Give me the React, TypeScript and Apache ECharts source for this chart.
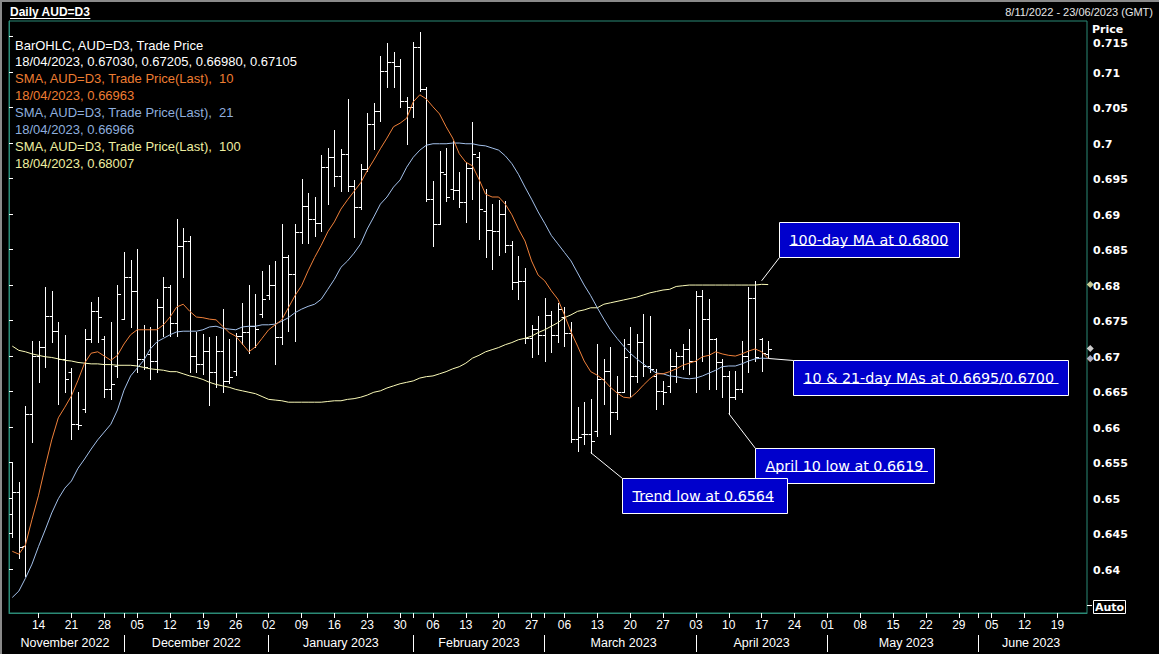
import React, { useEffect, useRef } from 'react';
import * as echarts from 'echarts';

// ---------- data ----------
const FIRST_DAY = '2022-11-08';
const LAST_DAY = '2023-06-23';
const INSTRUMENT = 'AUD=D3';
const MONTH_NAMES = ['January', 'February', 'March', 'April', 'May', 'June', 'July', 'August', 'September', 'October', 'November', 'December'];

const OPEN = [
  0.6478, 0.6509, 0.6432, 0.6618, 0.6700, 0.6713, 0.6756, 0.6735, 0.6696, 0.6678,
  0.6604, 0.6625, 0.6724, 0.6763, 0.6724, 0.6654, 0.6686, 0.6752, 0.6811, 0.6792,
  0.6696, 0.6703, 0.6693, 0.6769, 0.6797, 0.6746, 0.6855, 0.6862, 0.6700, 0.6689,
  0.6707, 0.6678, 0.6707, 0.6665, 0.6679, 0.6728, 0.6734, 0.6742, 0.6759, 0.6786,
  0.6800, 0.6727, 0.6839, 0.6816, 0.6875, 0.6911, 0.6893, 0.6887, 0.6966, 0.6980,
  0.6954, 0.6985, 0.6939, 0.6910, 0.6963, 0.7027, 0.7045, 0.7101, 0.7114, 0.7108,
  0.7059, 0.7051, 0.7135, 0.7076, 0.6921, 0.6886, 0.6956, 0.6935, 0.6934, 0.6917,
  0.6965, 0.6980, 0.6904, 0.6878, 0.6876, 0.6900, 0.6856, 0.6804, 0.6806, 0.6725,
  0.6738, 0.6730, 0.6758, 0.6730, 0.6755, 0.6732, 0.6583, 0.6590, 0.6590, 0.6594,
  0.6668, 0.6679, 0.6621, 0.6649, 0.6717, 0.6672, 0.6720, 0.6686, 0.6672, 0.6651,
  0.6658, 0.6686, 0.6700, 0.6710, 0.6693, 0.6785, 0.6752, 0.6724, 0.6692, 0.6672,
  0.6642, 0.6654, 0.6700, 0.6782, 0.6724, 0.67030,
];
const HIGH = [
  0.6551, 0.6523, 0.6630, 0.6721, 0.6721, 0.6797, 0.6792, 0.6748, 0.6730, 0.6683,
  0.6649, 0.6738, 0.6776, 0.6783, 0.6728, 0.6748, 0.6800, 0.6847, 0.6835, 0.6851,
  0.6744, 0.6741, 0.6780, 0.6811, 0.6800, 0.6893, 0.6880, 0.6869, 0.6734, 0.6731,
  0.6727, 0.6728, 0.6766, 0.6724, 0.6732, 0.6775, 0.6800, 0.6787, 0.6820, 0.6828,
  0.6834, 0.6886, 0.6843, 0.6886, 0.6949, 0.6930, 0.6924, 0.6983, 0.6993, 0.7018,
  0.6992, 0.7062, 0.6948, 0.6970, 0.7042, 0.7056, 0.7123, 0.7141, 0.7128, 0.7119,
  0.7065, 0.7142, 0.7156, 0.7079, 0.6946, 0.6989, 0.6993, 0.7003, 0.6959, 0.6973,
  0.7030, 0.6987, 0.6935, 0.6914, 0.6920, 0.6918, 0.6862, 0.6841, 0.6824, 0.6744,
  0.6756, 0.6782, 0.6763, 0.6775, 0.6769, 0.6748, 0.6628, 0.6635, 0.6639, 0.6717,
  0.6696, 0.6713, 0.6672, 0.6724, 0.6741, 0.6731, 0.6759, 0.6756, 0.6682, 0.6665,
  0.6710, 0.6706, 0.6717, 0.6738, 0.6792, 0.6793, 0.6780, 0.6725, 0.6696, 0.6679,
  0.6679, 0.6721, 0.6797, 0.6806, 0.6725, 0.67205,
];
const LOW = [
  0.6445, 0.6416, 0.6390, 0.6579, 0.6663, 0.6685, 0.6720, 0.6632, 0.6649, 0.6583,
  0.6597, 0.6621, 0.6720, 0.6720, 0.6642, 0.6639, 0.6670, 0.6752, 0.6741, 0.6678,
  0.6682, 0.6668, 0.6678, 0.6728, 0.6728, 0.6728, 0.6811, 0.6678, 0.6678, 0.6675,
  0.6631, 0.6656, 0.6649, 0.6662, 0.6673, 0.6717, 0.6704, 0.6713, 0.6755, 0.6780,
  0.6689, 0.6717, 0.6735, 0.6721, 0.6859, 0.6859, 0.6869, 0.6876, 0.6914, 0.6939,
  0.6932, 0.6932, 0.6868, 0.6907, 0.6961, 0.6992, 0.7031, 0.7079, 0.7079, 0.7051,
  0.6999, 0.7036, 0.7073, 0.6918, 0.6855, 0.6886, 0.6918, 0.6921, 0.6910, 0.6889,
  0.6921, 0.6865, 0.6839, 0.6823, 0.6843, 0.6847, 0.6794, 0.6780, 0.6718, 0.6699,
  0.6703, 0.6693, 0.6706, 0.6720, 0.6714, 0.6579, 0.6566, 0.6576, 0.6564, 0.6587,
  0.6632, 0.6590, 0.6611, 0.6649, 0.6644, 0.6663, 0.6672, 0.6678, 0.6625, 0.6632,
  0.6649, 0.6663, 0.6682, 0.6675, 0.6649, 0.6693, 0.6654, 0.6654, 0.6642, 0.6619,
  0.6639, 0.6649, 0.6678, 0.6693, 0.6679, 0.66980,
];
const CLOSE = [
  0.6509, 0.6431, 0.6618, 0.6700, 0.6713, 0.6756, 0.6735, 0.6696, 0.6668, 0.6604,
  0.6603, 0.6724, 0.6763, 0.6755, 0.6654, 0.6661, 0.6787, 0.6811, 0.6792, 0.6696,
  0.6685, 0.6693, 0.6769, 0.6797, 0.6746, 0.6855, 0.6862, 0.6700, 0.6689, 0.6707,
  0.6678, 0.6707, 0.6665, 0.6671, 0.6728, 0.6734, 0.6742, 0.6738, 0.6780, 0.6800,
  0.6727, 0.6839, 0.6816, 0.6875, 0.6911, 0.6893, 0.6887, 0.6966, 0.6980, 0.6954,
  0.6985, 0.6939, 0.6910, 0.6963, 0.7027, 0.7045, 0.7101, 0.7114, 0.7108, 0.7059,
  0.7051, 0.7135, 0.7076, 0.6921, 0.6886, 0.6959, 0.6924, 0.6934, 0.6917, 0.6965,
  0.6985, 0.6907, 0.6878, 0.6876, 0.6900, 0.6856, 0.6804, 0.6806, 0.6725, 0.6738,
  0.6730, 0.6758, 0.6730, 0.6766, 0.6732, 0.6583, 0.6586, 0.6590, 0.6580, 0.6668,
  0.6679, 0.6621, 0.6649, 0.6698, 0.6672, 0.6720, 0.6686, 0.6682, 0.6651, 0.6649,
  0.6686, 0.6700, 0.6710, 0.6693, 0.6785, 0.6752, 0.6724, 0.6692, 0.6672, 0.6642,
  0.6654, 0.6700, 0.6782, 0.6699, 0.6704, 0.67105,
];
const SMA10 = [
  0.6425, 0.6421, 0.6434, 0.6470, 0.6504, 0.6544, 0.6582, 0.6613, 0.6628, 0.6644,
  0.6666, 0.6690, 0.6704, 0.6706, 0.6700, 0.6694, 0.6701, 0.6717, 0.6730, 0.6737,
  0.6737, 0.6737, 0.6737, 0.6744, 0.6755, 0.6769, 0.6773, 0.6763, 0.6755, 0.6754,
  0.6752, 0.6751, 0.6742, 0.6733, 0.6728, 0.6717, 0.6706, 0.6713, 0.6725, 0.6737,
  0.6744, 0.6751, 0.6768, 0.6785, 0.6799, 0.6820, 0.6839, 0.6856, 0.6875, 0.6889,
  0.6907, 0.6920, 0.6932, 0.6944, 0.6961, 0.6976, 0.6992, 0.7007, 0.7023, 0.7028,
  0.7035, 0.7058, 0.7068, 0.7062, 0.7051, 0.7041, 0.7023, 0.7007, 0.6985, 0.6973,
  0.6968, 0.6949, 0.6928, 0.6924, 0.6924, 0.6914, 0.6899, 0.6879, 0.6862, 0.6834,
  0.6814, 0.6806, 0.6792, 0.6780, 0.6758, 0.6734, 0.6714, 0.6693, 0.6678, 0.6673,
  0.6666, 0.6656, 0.6648, 0.6642, 0.6641, 0.6649, 0.6659, 0.6668, 0.6675, 0.6675,
  0.6678, 0.6682, 0.6687, 0.6690, 0.6693, 0.6699, 0.6701, 0.6706, 0.6703, 0.6701,
  0.6700, 0.6703, 0.6707, 0.6710, 0.6706, 0.66963,
];
const SMA21 = [
  0.6360, 0.6369, 0.6387, 0.6407, 0.6432, 0.6455, 0.6479, 0.6499, 0.6514, 0.6524,
  0.6542, 0.6555, 0.6569, 0.6582, 0.6593, 0.6604, 0.6624, 0.6652, 0.6672, 0.6683,
  0.6694, 0.6710, 0.6720, 0.6725, 0.6730, 0.6734, 0.6735, 0.6735, 0.6735, 0.6737,
  0.6741, 0.6742, 0.6739, 0.6738, 0.6737, 0.6741, 0.6742, 0.6742, 0.6744, 0.6744,
  0.6745, 0.6749, 0.6754, 0.6761, 0.6766, 0.6770, 0.6773, 0.6780, 0.6794, 0.6808,
  0.6825, 0.6834, 0.6845, 0.6858, 0.6879, 0.6896, 0.6914, 0.6924, 0.6938, 0.6948,
  0.6966, 0.6980, 0.6990, 0.6997, 0.6999, 0.6999, 0.6999, 0.7000, 0.7000, 0.6999,
  0.6999, 0.6997, 0.6996, 0.6993, 0.6990, 0.6982, 0.6971, 0.6956, 0.6938, 0.6921,
  0.6903, 0.6887, 0.6870, 0.6858, 0.6846, 0.6834, 0.6817, 0.6800, 0.6785, 0.6768,
  0.6752, 0.6737, 0.6725, 0.6714, 0.6704, 0.6696, 0.6689, 0.6682, 0.6676, 0.6675,
  0.6672, 0.6671, 0.6669, 0.6668, 0.6669, 0.6672, 0.6676, 0.6680, 0.6685, 0.6686,
  0.6686, 0.6689, 0.6693, 0.6696, 0.6697, 0.66966,
];
const SMA100 = [
  0.6714, 0.6708, 0.6706, 0.6703, 0.6701, 0.6699, 0.6698, 0.6696, 0.6694, 0.6693,
  0.6691, 0.6690, 0.6689, 0.6689, 0.6688, 0.6688, 0.6687, 0.6687, 0.6687, 0.6686,
  0.6684, 0.6682, 0.6681, 0.6680, 0.6678, 0.6678, 0.6675, 0.6672, 0.6670, 0.6667,
  0.6663, 0.6660, 0.6658, 0.6656, 0.6653, 0.6651, 0.6649, 0.6647, 0.6643, 0.6639,
  0.6638, 0.6637, 0.6635, 0.6635, 0.6635, 0.6635, 0.6635, 0.6635, 0.6636, 0.6637,
  0.6637, 0.6639, 0.6640, 0.6642, 0.6645, 0.6649, 0.6651, 0.6655, 0.6658, 0.6661,
  0.6663, 0.6665, 0.6669, 0.6671, 0.6672, 0.6675, 0.6678, 0.6682, 0.6685, 0.6690,
  0.6697, 0.6701, 0.6706, 0.6709, 0.6712, 0.6716, 0.6719, 0.6723, 0.6725, 0.6728,
  0.6733, 0.6737, 0.6742, 0.6747, 0.6754, 0.6758, 0.6763, 0.6765, 0.6768, 0.6768,
  0.6773, 0.6775, 0.6777, 0.6779, 0.6781, 0.6783, 0.6786, 0.6789, 0.6791, 0.6793,
  0.6794, 0.6798, 0.6799, 0.6800, 0.6800, 0.6800, 0.6800, 0.6800, 0.6800, 0.6800,
  0.6800, 0.6800, 0.6800, 0.6800, 0.6801, 0.68007,
];

const Y_TICKS = [0.64, 0.645, 0.65, 0.655, 0.66, 0.665, 0.67, 0.675, 0.68, 0.685, 0.69, 0.695, 0.7, 0.705, 0.71, 0.715];
const Y_MIN = 0.63381;
const Y_MAX = 0.71719;

const ANNOTATIONS = [
  { text: '100-day MA at 0.6800', at: 114, value: 0.6806, box: { x: 779, y: 222, w: 180, h: 35 }, join: 'bottom' },
  { text: '10 & 21-day MAs at 0.6695/0.6700 ', at: 115, value: 0.66966, box: { x: 793, y: 360, w: 275, h: 35 }, join: 'top' },
  { text: 'April 10 low at 0.6619 ', at: 109, value: 0.6619, box: { x: 755, y: 448, w: 179, h: 35 }, join: 'top' },
  { text: 'Trend low at 0.6564', at: 88, value: 0.6564, box: { x: 622, y: 478, w: 165, h: 35 }, join: 'top' },
];

// ---------- styles ----------
const TEAL = '#2b8a76';
const WHITE = '#ffffff';
const ORANGE = '#f0803a';
const ORANGE_TXT = '#ee7d32';
const BLUE = '#a3c0ea';
const BLUE_TXT = '#8eaede';
const YELLOW = '#fbfbb8';
const YELLOW_TXT = '#eeeea0';
const BOX_BLUE = '#0000cc';
const SANS = '"Liberation Sans", Arial, sans-serif';
const VERD = '"DejaVu Sans", Verdana, sans-serif';
const ANN_FONT = '14.3px ' + VERD;

// ---------- helpers ----------
function buildWeekdays(first: string, last: string): string[] {
  const out: string[] = [];
  const d = new Date(first + 'T00:00:00Z');
  const e = new Date(last + 'T00:00:00Z');
  while (d.getTime() <= e.getTime()) {
    const wd = d.getUTCDay();
    if (wd !== 0 && wd !== 6) out.push(d.toISOString().slice(0, 10));
    d.setUTCDate(d.getUTCDate() + 1);
  }
  return out;
}
const DATES = buildWeekdays(FIRST_DAY, LAST_DAY);
const isMonday = (i: number) => new Date(DATES[i] + 'T00:00:00Z').getUTCDay() === 1;
const isMonthStart = (i: number) => i > 0 && DATES[i].slice(5, 7) !== DATES[i - 1].slice(5, 7);

const MONTH_LABEL_AT = new Map<number, string>();
(() => {
  const starts: number[] = [];
  DATES.forEach((_, i) => { if (isMonthStart(i)) starts.push(i); });
  const bounds = [-0.5, ...starts, DATES.length - 0.5];
  for (let k = 0; k < bounds.length - 1; k++) {
    const mid = Math.round((bounds[k] + bounds[k + 1]) / 2);
    const d = DATES[Math.max(0, Math.ceil(bounds[k]))];
    MONTH_LABEL_AT.set(mid, MONTH_NAMES[+d.slice(5, 7) - 1] + ' ' + d.slice(0, 4));
  }
})();

const dmy = (iso: string) => `${iso.slice(8, 10)}/${iso.slice(5, 7)}/${iso.slice(0, 4)}`;
const dmyShort = (iso: string) => `${+iso.slice(8, 10)}/${iso.slice(5, 7)}/${iso.slice(0, 4)}`;

function measure(text: string, font: string): number {
  const ctx = document.createElement('canvas').getContext('2d');
  if (!ctx) return text.length * 8;
  ctx.font = font;
  return ctx.measureText(text).width;
}

function buildOption() {
  const n = CLOSE.length - 1;
  const lastDate = dmy(DATES[n]);
  const ohlc = OPEN.map((o, i) => [i, o, HIGH[i], LOW[i], CLOSE[i]]);
  const legend: [string, string][] = [
    [`BarOHLC, ${INSTRUMENT}, Trade Price`, WHITE],
    [`${lastDate}, ${OPEN[n].toFixed(5)}, ${HIGH[n].toFixed(5)}, ${LOW[n].toFixed(5)}, ${CLOSE[n].toFixed(5)}`, WHITE],
    [`SMA, ${INSTRUMENT}, Trade Price(Last),  10`, ORANGE_TXT],
    [`${lastDate}, ${SMA10[n].toFixed(5)}`, ORANGE_TXT],
    [`SMA, ${INSTRUMENT}, Trade Price(Last),  21`, BLUE_TXT],
    [`${lastDate}, ${SMA21[n].toFixed(5)}`, BLUE_TXT],
    [`SMA, ${INSTRUMENT}, Trade Price(Last),  100`, YELLOW_TXT],
    [`${lastDate}, ${SMA100[n].toFixed(5)}`, YELLOW_TXT],
  ];
  const topTick = Y_TICKS[Y_TICKS.length - 1];

  return {
    animation: false,
    backgroundColor: '#000000',
    textStyle: { fontFamily: SANS },
    grid: { left: 9, right: 72, top: 21, bottom: 41, show: true, borderColor: TEAL, borderWidth: 1, backgroundColor: 'transparent' },
    xAxis: [
      {
        type: 'category', data: DATES, boundaryGap: true,
        axisLine: { show: true, lineStyle: { color: TEAL, width: 1 } },
        axisTick: { show: true, alignWithLabel: true, length: 5, interval: (i: number) => isMonday(i) || isMonthStart(i), lineStyle: { color: WHITE } },
        axisLabel: { show: true, interval: (i: number) => isMonday(i), formatter: (v: string) => v.slice(8, 10), color: WHITE, fontSize: 12, fontFamily: SANS, margin: 6 },
        splitLine: { show: false },
      },
      {
        type: 'category', data: DATES, boundaryGap: true, position: 'bottom', offset: 22,
        axisLine: { show: false },
        axisTick: { show: true, alignWithLabel: true, length: 17, interval: (i: number) => isMonthStart(i), lineStyle: { color: WHITE } },
        axisLabel: { show: true, interval: (i: number) => MONTH_LABEL_AT.has(i), formatter: (_v: string, i: number) => MONTH_LABEL_AT.get(i) || '', color: WHITE, fontSize: 12.5, fontFamily: SANS, margin: 1 },
        splitLine: { show: false },
      },
      { type: 'value', min: 0, max: 1, show: false, position: 'top' },
    ],
    yAxis: [
      {
        type: 'value', position: 'right', min: Y_MIN, max: Y_MAX,
        axisLine: { show: true, lineStyle: { color: TEAL } },
        axisTick: { show: true, length: 4, customValues: Y_TICKS, lineStyle: { color: WHITE } },
        axisLabel: {
          show: true, customValues: Y_TICKS,
          formatter: (v: number) => {
            const s = String(Number(v.toFixed(3)));
            return Math.abs(v - topTick) < 1e-9 ? `{t|${s}}` : `{n|${s}}`;
          },
          rich: {
            n: { color: WHITE, fontWeight: 'bold', fontSize: 11, fontFamily: VERD, padding: [2, 0, 0, 0] },
            t: { color: WHITE, fontWeight: 'bold', fontSize: 11, fontFamily: VERD, padding: [14, 0, 0, 0] },
          },
          color: WHITE, fontWeight: 'bold', fontSize: 11, fontFamily: VERD, margin: 6,
        },
        splitLine: { show: false },
      },
    ],
    series: [
      {
        type: 'custom', name: 'BarOHLC', xAxisIndex: 0, yAxisIndex: 0,
        data: ohlc, encode: { x: 0, y: [1, 2, 3, 4] },
        renderItem: (_p: any, api: any) => {
          const idx = api.value(0);
          const pO = api.coord([idx, api.value(1)]);
          const pH = api.coord([idx, api.value(2)]);
          const pL = api.coord([idx, api.value(3)]);
          const pC = api.coord([idx, api.value(4)]);
          const x = Math.round(pO[0]) + 0.5;
          const yo = Math.round(pO[1]) + 0.5;
          const yc = Math.round(pC[1]) + 0.5;
          const st = { stroke: WHITE, lineWidth: 1 };
          return {
            type: 'group',
            children: [
              { type: 'line', shape: { x1: x, y1: Math.round(pH[1]), x2: x, y2: Math.round(pL[1]) + 1 }, style: st },
              { type: 'line', shape: { x1: x - 3, y1: yo, x2: x, y2: yo }, style: st },
              { type: 'line', shape: { x1: x, y1: yc, x2: x + 3.5, y2: yc }, style: st },
            ],
          };
        },
        z: 2,
      },
      { type: 'line', name: 'SMA100', data: SMA100, xAxisIndex: 0, yAxisIndex: 0, symbol: 'none', showSymbol: false, lineStyle: { color: YELLOW, width: 1 }, z: 3 },
      { type: 'line', name: 'SMA21', data: SMA21, xAxisIndex: 0, yAxisIndex: 0, symbol: 'none', showSymbol: false, lineStyle: { color: BLUE, width: 1 }, z: 4 },
      { type: 'line', name: 'SMA10', data: SMA10, xAxisIndex: 0, yAxisIndex: 0, symbol: 'none', showSymbol: false, lineStyle: { color: ORANGE, width: 1 }, z: 5 },
      {
        type: 'scatter', name: 'last', xAxisIndex: 2, yAxisIndex: 0, clip: false, symbol: 'diamond', symbolSize: [7, 7], z: 10,
        data: [
          { value: [1.003, SMA100[n]], itemStyle: { color: YELLOW } },
          { value: [1.003, SMA10[n]], itemStyle: { color: ORANGE } },
          { value: [1.003, SMA21[n]], itemStyle: { color: BLUE } },
          { value: [1.003, CLOSE[n]], itemStyle: { color: WHITE } },
        ],
      },
    ],
    _legend: legend,
  } as any;
}

function staticGraphics(legend: [string, string][]) {
  const els: any[] = [];
  // outer frame
  els.push({ type: 'line', shape: { x1: 0, y1: 1, x2: 1159, y2: 1 }, style: { stroke: '#8a8a8a', lineWidth: 2 }, z: 50 });
  els.push({ type: 'line', shape: { x1: 1, y1: 0, x2: 1, y2: 654 }, style: { stroke: '#8a8a8a', lineWidth: 2 }, z: 50 });
  // title
  const titleFont = 'bold 12px ' + SANS;
  const title = `Daily ${INSTRUMENT}`;
  els.push({ type: 'text', x: 10, y: 12, style: { text: title, fill: WHITE, font: titleFont, textAlign: 'left', textVerticalAlign: 'middle' }, z: 50 });
  const tw = measure(title, titleFont);
  els.push({ type: 'line', shape: { x1: 10, y1: 18.5, x2: 10 + tw, y2: 18.5 }, style: { stroke: WHITE, lineWidth: 1 }, z: 50 });
  // date range
  els.push({ type: 'text', x: 1153, y: 12, style: { text: `${dmyShort(FIRST_DAY)} - ${dmy(LAST_DAY)} (GMT)`, fill: '#e6e6e6', font: '11px ' + SANS, textAlign: 'right', textVerticalAlign: 'middle' }, z: 50 });
  // legend
  legend.forEach(([t, c], k) => {
    els.push({ type: 'text', x: 15, y: 45 + k * 16.9, style: { text: t, fill: c, font: '13px ' + SANS, textAlign: 'left', textVerticalAlign: 'middle' }, z: 50 });
  });
  // price label and auto box
  els.push({ type: 'text', x: 1092, y: 29, style: { text: 'Price', fill: WHITE, font: 'bold 11px ' + VERD, textAlign: 'left', textVerticalAlign: 'middle' }, z: 50 });
  els.push({ type: 'line', shape: { x1: 1087, y1: 605.5, x2: 1092, y2: 605.5 }, style: { stroke: WHITE, lineWidth: 1 }, z: 50 });
  els.push({ type: 'rect', shape: { x: 1093.5, y: 600.5, width: 32, height: 13 }, style: { fill: '#000', stroke: WHITE, lineWidth: 1 }, z: 50 });
  els.push({ type: 'text', x: 1109.5, y: 607.5, style: { text: 'Auto', fill: WHITE, font: 'bold 11px ' + VERD, textAlign: 'center', textVerticalAlign: 'middle' }, z: 51 });
  return els;
}

function annotationGraphics(chart: any) {
  const els: any[] = [];
  ANNOTATIONS.forEach((a) => {
    const p = chart.convertToPixel({ xAxisIndex: 0, yAxisIndex: 0 }, [a.at, a.value]);
    const jx = a.box.x + 0.5;
    const jy = (a.join === 'bottom' ? a.box.y + a.box.h : a.box.y) + 0.5;
    els.push({ type: 'line', shape: { x1: p[0], y1: p[1], x2: jx, y2: jy }, style: { stroke: WHITE, lineWidth: 1 }, z: 100 });
    els.push({ type: 'rect', shape: { x: a.box.x + 0.5, y: a.box.y + 0.5, width: a.box.w, height: a.box.h }, style: { fill: BOX_BLUE, stroke: WHITE, lineWidth: 1 }, z: 101 });
    const tx = a.box.x + 10.5;
    els.push({ type: 'text', x: tx, y: a.box.y + a.box.h / 2, style: { text: a.text, fill: WHITE, font: ANN_FONT, textAlign: 'left', textVerticalAlign: 'middle' }, z: 102 });
    const w = measure(a.text, ANN_FONT);
    const uy = Math.round(a.box.y + 23) + 0.5;
    els.push({ type: 'line', shape: { x1: tx, y1: uy, x2: tx + w, y2: uy }, style: { stroke: WHITE, lineWidth: 1 }, z: 102 });
  });
  return els;
}

export default function App() {
  const ref = useRef<HTMLDivElement>(null);
  useEffect(() => {
    const el = ref.current;
    if (!el) return;
    const chart = echarts.init(el, null, { renderer: 'svg' });
    const opt = buildOption();
    const legend = opt._legend;
    delete opt._legend;
    chart.setOption(opt);
    chart.setOption({ graphic: { elements: [...staticGraphics(legend), ...annotationGraphics(chart)] } });
    return () => chart.dispose();
  }, []);
  return <div ref={ref} style={{ position: 'fixed', left: 0, top: 0, width: 1159, height: 654, background: '#000' }} />;
}
